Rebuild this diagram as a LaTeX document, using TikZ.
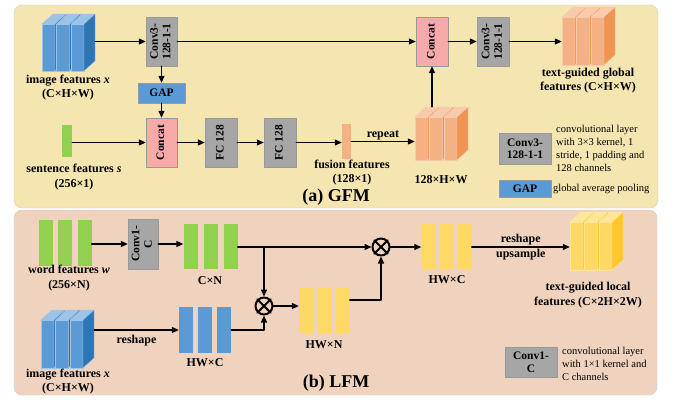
\documentclass[tikz,border=0pt]{standalone}
\usepackage{fontspec}
\setmainfont{Liberation Serif}
\usepackage{graphicx}
\usetikzlibrary{arrows.meta,calc,positioning}

\definecolor{gfmbg}{RGB}{245,229,176}
\definecolor{lfmbg}{RGB}{240,211,190}
\definecolor{panelln}{RGB}{205,205,205}
\definecolor{bluF}{RGB}{91,155,213}
\definecolor{bluT}{RGB}{157,195,230}
\definecolor{bluS}{RGB}{46,117,182}
\definecolor{orgF}{RGB}{244,177,131}
\definecolor{orgT}{RGB}{248,203,173}
\definecolor{orgS}{RGB}{240,148,84}
\definecolor{yelF}{RGB}{255,217,102}
\definecolor{yelT}{RGB}{255,230,153}
\definecolor{yelS}{RGB}{255,199,44}
\definecolor{grnF}{RGB}{146,208,80}
\definecolor{gryF}{RGB}{166,166,166}
\definecolor{pnkF}{RGB}{248,170,170}

\tikzset{
  arr/.style={line width=1.2pt, -{Triangle[length=7pt,width=6pt]}},
  blk/.style={rectangle, draw=gray!80, line width=0.4pt, fill=gryF, inner sep=0pt, font=\bfseries\fontsize{11.5}{12.5}\selectfont},
  cat/.style={blk, fill=pnkF},
  bar/.style={rectangle, inner sep=0pt, minimum width=14pt, minimum height=46pt},
  lbl/.style={align=center, font=\bfseries\fontsize{12}{14.5}\selectfont, inner sep=0pt},
  note/.style={align=left, anchor=west, font=\fontsize{10.5}{13}\selectfont, inner sep=0pt},
  mul/.style={circle, draw, line width=2pt, minimum size=17pt, inner sep=0pt},
  every picture/.style={line cap=round, line join=round}
}

% rotated text in the conv / concat / fc boxes
\newcommand{\vtxt}[1]{\rotatebox{90}{\begin{tabular}{@{}c@{}}#1\end{tabular}}}
% three 3-d feature slabs: name, left x, bottom y, front height, colour prefix
\newcommand{\slabs}[5]{%
  \foreach \i in {0,1,2}{
    \pgfmathsetmacro{\xa}{#2+14.5*\i}
    \filldraw[fill=#5F, draw=#5T, line width=0.4pt] (\xa,#3) rectangle ++(13,-#4);
    \filldraw[fill=#5T, draw=#5T, line width=0.4pt] (\xa,#3-#4) -- ++(11,-10) -- ++(13,0) -- ++(-11,10) -- cycle;
    \filldraw[fill=#5S, draw=#5T, line width=0.4pt] (\xa+13,#3) -- ++(0,-#4) -- ++(11,-10) -- ++(0,#4) -- cycle;
  }
  \node[inner sep=0pt, minimum width=53pt, minimum height=#4pt+10pt] (#1) at (#2+26.5,#3-#4/2-5) {};
}

\begin{document}
\begin{tikzpicture}[x=1pt, y=-1pt]
  \useasboundingbox (0,0) rectangle (677,399);
  \draw[panelln, fill=gfmbg, rounded corners=8pt] (14,5) rectangle (658,208);
  \draw[panelln, fill=lfmbg, rounded corners=8pt] (14,210) rectangle (657,395);

  % (a) GFM
  \slabs{imgx}{42}{71}{47}{blu}
  \node[blk, minimum width=31pt, minimum height=49pt] (conv1) at (161.5,41.5) {\vtxt{Conv3-\\128-1-1}};
  \node[blk, fill=bluF, minimum width=47pt, minimum height=20pt] (gap) at (161.5,93) {GAP};
  \node[cat, minimum width=31pt, minimum height=49pt] (cat1) at (161.5,142.5) {\vtxt{Concat}};
  \node[bar, fill=grnF, minimum width=10pt, minimum height=32pt] (sent) at (67,141) {};
  \node[blk, minimum width=32pt, minimum height=49pt] (fc1) at (221,142.5) {\vtxt{FC 128}};
  \node[blk, minimum width=32pt, minimum height=49pt] (fc2) at (280,142.5) {\vtxt{FC 128}};
  \node[bar, fill=orgF, minimum width=9pt, minimum height=35pt] (fus) at (346.5,141.5) {};
  \slabs{rep}{415}{160}{43}{org}
  \node[cat, minimum width=32pt, minimum height=49pt] (cat2) at (432,41.5) {\vtxt{Concat}};
  \node[blk, minimum width=32pt, minimum height=49pt] (conv2) at (493,41.5) {\vtxt{Conv3-\\128-1-1}};
  \slabs{outg}{562}{65}{48}{org}

  \node[lbl] (imgxlbl) at (68,87.5) {image features \textit{x}\\(C×H×W)};
  \node[lbl] (sentlbl) at (74,177) {sentence features \textit{s}\\(256×1)};
  \node[lbl] (fuslbl) at (352,172.5) {fusion features\\(128×1)};
  \node[lbl] (replbl) at (441,180) {128×H×W};
  \node[lbl] (outglbl) at (588,80.5) {text-guided global\\features (C×H×W)};

  \draw[arr] (imgx.east |- conv1) -- (conv1.west);
  \draw[arr] (conv1.east) -- (cat2.west);
  \draw[arr] (conv1.south) -- (gap.north);
  \draw[arr] (gap.south) -- (cat1.north);
  \draw[arr] (sent.east |- cat1) -- (cat1.west);
  \draw[arr] (cat1.east) -- (fc1.west);
  \draw[arr] (fc1.east) -- (fc2.west);
  \draw[arr] (fc2.east) -- (fus.west |- fc2);
  \draw[arr] (fus.east) -- node[lbl, above=1pt] {repeat} (rep.west |- fus);
  \draw[arr] (cat2 |- rep.north) -- (cat2.south);
  \draw[arr] (cat2.east) -- (conv2.west);
  \draw[arr] (conv2.east) -- (outg.west |- conv2);

  \node[blk, minimum width=52pt, minimum height=31pt, align=center] (lgconv) at (525,148.5) {Conv3-\\128-1-1};
  \node[note] (lgconvtxt) at (556,148.5) {convolutional layer\\with 3×3 kernel, 1\\stride, 1 padding and\\128 channels};
  \node[blk, fill=bluF, minimum width=52pt, minimum height=17pt] (lggap) at (525,188.5) {GAP};
  \node[note] (lggaptxt) at (553,189) {global average pooling};
  \node[font=\bfseries\fontsize{18}{20}\selectfont, inner sep=0pt] (gfmttl) at (336,197) {(a) GFM};

  % (b) LFM
  \foreach \n/\x in {1/45.5,2/65,3/84.5} \node[bar, fill=grnF] (w\n) at (\x,243) {};
  \node[blk, minimum width=30pt, minimum height=50pt] (conv3) at (143,244) {\vtxt{Conv1-\\C}};
  \foreach \n/\x in {1/190.5,2/210.5,3/230.5} \node[bar, fill=grnF, minimum height=45pt] (cn\n) at (\x,246.5) {};
  \node[mul] (m1) at (264,306) {};
  \node[mul] (m2) at (381,247) {};
  \foreach \m in {m1,m2} \draw[line width=1.8pt] (\m.north west) -- (\m.south east) (\m.north east) -- (\m.south west);
  \slabs{imgl}{41}{368}{48}{blu}
  \foreach \n/\x in {1/186,2/205,3/224} \node[bar, fill=bluF] (hw\n) at (\x,330) {};
  \foreach \n/\x in {1/306,2/325,3/342.5} \node[bar, fill=yelF] (hn\n) at (\x,310) {};
  \foreach \n/\x in {1/428.5,2/446.5,3/464.5} \node[bar, fill=yelF, minimum height=45pt] (hc\n) at (\x,246.5) {};
  \slabs{outl}{570}{270}{48}{yel}
  \coordinate (hnout) at ($(hn3.east)+(0,-10)$);

  \draw[arr] (w3.east |- conv3) -- (conv3.west);
  \draw[arr] (conv3.east) -- (cn1.west |- conv3);
  \draw[arr] (cn3.east |- m2) -- (m2.west);
  \draw[arr] (m1 |- m2) -- (m1.north);
  \draw[arr] (imgl.east |- hw1) -- node[lbl, below=5pt] {reshape} (hw1.west);
  \draw[arr] (hw3.east) -| (m1.south);
  \draw[arr] (m1.east) -- (hn1.west |- m1);
  \draw[arr] (hnout) -| (m2.south);
  \draw[arr] (m2.east) -- (hc1.west |- m2);
  \draw[arr] (hc3.east |- m2) -- node[lbl, above=1pt] {reshape} node[lbl, below=2pt] {upsample} (outl.west |- m2);

  \node[lbl] (wlbl) at (69,278) {word features \textit{w}\\(256×N)};
  \node[lbl] (cnlbl) at (210,281) {C×N};
  \node[lbl] (hwlbl) at (205,363) {HW×C};
  \node[lbl] (hnlbl) at (324,345) {HW×N};
  \node[lbl] (hclbl) at (447,280) {HW×C};
  \node[lbl] (outllbl) at (588,295) {text-guided local\\features (C×2H×2W)};
  \node[lbl] (imgllbl) at (68,381.5) {image features \textit{x}\\(C×H×W)};

  \node[blk, minimum width=52pt, minimum height=30pt, align=center] (lgc1) at (531,362) {Conv1-\\C};
  \node[note] (lgc1txt) at (562,364) {convolutional layer\\with 1×1 kernel and\\C channels};
  \node[font=\bfseries\fontsize{18}{20}\selectfont, inner sep=0pt] (lfmttl) at (336,383) {(b) LFM};
\end{tikzpicture}
\end{document}
